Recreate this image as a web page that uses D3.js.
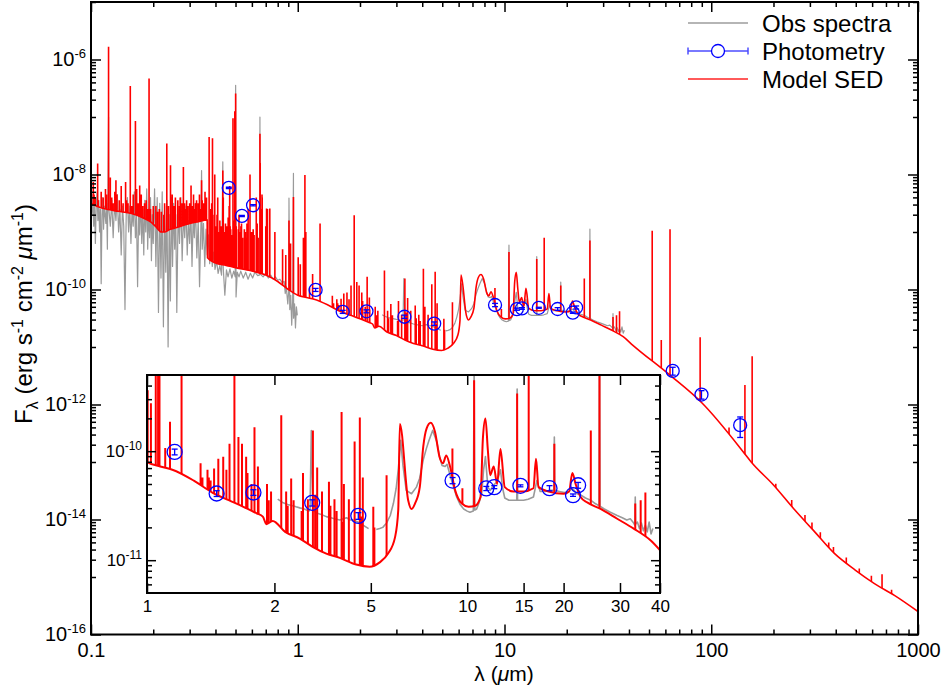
<!DOCTYPE html>
<html><head><meta charset="utf-8">
<script src="https://cdn.jsdelivr.net/npm/d3@7"></script>
<style>
body{margin:0;background:#fff}
svg{display:block}
text{font-family:"Liberation Sans",Arial,Helvetica,sans-serif;fill:#000;white-space:pre}
</style>
</head><body>
<svg id="chart" width="946" height="686"></svg>
<script>
// ---------------- DATA ----------------
// Model SED continuum [wavelength (um), F_lambda]
const modelContinuum = [
[0.100,3.16e-9],[0.110,2.69e-9],[0.121,2.46e-9],[0.135,2.29e-9],[0.157,2.09e-9],[0.180,1.74e-9],
[0.195,1.48e-9],[0.205,1.26e-9],[0.219,1.00e-9],[0.228,1.00e-9],[0.240,1.10e-9],[0.260,1.20e-9],
[0.295,1.38e-9],[0.330,1.51e-9],[0.3646,1.62e-9],[0.3660,3.55e-10],[0.400,2.88e-10],[0.450,2.63e-10],
[0.500,2.40e-10],[0.620,2.04e-10],[0.700,1.78e-10],[0.800,1.38e-10],[0.900,1.00e-10],[1.00,7.94e-11],
[1.10,7.24e-11],[1.20,6.76e-11],[1.40,5.37e-11],[1.60,4.17e-11],[1.80,3.55e-11],[2.00,3.09e-11],
[2.20,2.69e-11],[2.30,2.51e-11],[2.36,2.14e-11],[2.47,2.29e-11],[2.70,1.82e-11],[3.00,1.58e-11],
[3.30,1.32e-11],[3.63,1.15e-11],[4.00,1.05e-11],[4.50,9.12e-12],[4.96,8.71e-12],[5.33,9.55e-12],
[5.66,1.15e-11],[5.95,1.62e-11],[6.09,2.88e-11],[6.16,1.78e-10],[6.54,3.55e-11],[6.70,2.95e-11],
[6.87,3.31e-11],[7.11,4.68e-11],[7.29,1.10e-10],[7.47,1.62e-10],[7.69,1.82e-10],[7.93,1.51e-10],
[8.19,8.91e-11],[8.40,7.76e-11],[8.60,9.12e-11],[8.84,7.24e-11],[9.17,4.37e-11],[9.62,3.31e-11],
[10.1,3.09e-11],[10.6,3.16e-11],[11.0,3.80e-11],[11.2,1.35e-10],[11.4,2.00e-10],[11.6,1.02e-10],
[11.8,6.03e-11],[12.1,7.24e-11],[12.4,5.01e-11],[12.7,1.05e-10],[13.1,4.68e-11],[13.95,4.27e-11],
[15.0,4.27e-11],[16.1,4.57e-11],[16.4,8.51e-11],[16.7,4.68e-11],[17.96,4.27e-11],[20.0,4.07e-11],
[20.8,4.27e-11],[21.3,6.31e-11],[21.8,5.01e-11],[22.6,3.80e-11],[23.7,3.39e-11],[26.1,2.95e-11],
[29.4,2.40e-11],[33.1,1.95e-11],[37.5,1.51e-11],[41.8,1.07e-11],[63.1,3.24e-12],[90.5,1.05e-12],
[142.6,1.51e-13],[156,1.00e-13],[200,3.98e-14],[250,1.55e-14],[312,6.46e-15],[394,2.57e-15],
[497,1.32e-15],[613,7.76e-16],[769,4.79e-16],[1000,2.51e-16]
];

// Model emission lines [wavelength (um), peak F_lambda]
const modelLines = [
[0.1026,7.41e-9],[0.1035,4.47e-9],[0.1048,3.98e-9],[0.1077,1.55e-8],[0.1085,3.55e-9],[0.1120,5.01e-9],
[0.1145,3.98e-9],[0.1175,5.62e-9],[0.1190,4.47e-9],[0.1216,1.66e-6],[0.1240,8.91e-9],[0.1260,3.98e-9],
[0.1280,3.16e-9],[0.1304,5.01e-9],[0.1320,7.94e-9],[0.1335,4.47e-9],[0.1370,3.55e-9],[0.1400,6.31e-9],
[0.1430,3.16e-9],[0.1470,7.41e-9],[0.1486,3.55e-9],[0.1510,3.16e-9],[0.1549,3.47e-7],[0.1575,2.82e-9],
[0.1600,4.47e-9],[0.1640,8.51e-8],[0.1663,5.62e-9],[0.1690,3.16e-9],[0.1720,6.46e-9],[0.1750,4.47e-9],
[0.1780,2.82e-9],[0.1815,3.16e-9],[0.1850,3.55e-9],[0.1880,2.51e-9],[0.1909,4.68e-7],[0.1940,2.51e-9],
[0.2000,2.82e-9],[0.2060,2.82e-9],[0.2100,2.24e-9],[0.2140,2.51e-9],[0.2190,2.24e-9],[0.2250,2.00e-9],
[0.2270,3.16e-9],[0.2326,3.47e-8],[0.2370,2.82e-9],[0.2424,1.45e-8],[0.2470,4.47e-9],[0.2515,2.82e-9],
[0.2560,3.98e-9],[0.2630,3.55e-9],[0.2680,2.82e-9],[0.2700,3.98e-9],[0.2750,3.16e-9],[0.2798,1.35e-8],
[0.2835,3.16e-9],[0.2860,2.51e-9],[0.2900,3.55e-9],[0.2945,2.82e-9],[0.3000,3.16e-9],[0.3047,6.46e-9],
[0.3090,2.82e-9],[0.3133,4.47e-9],[0.3170,2.51e-9],[0.3203,3.16e-9],[0.3240,3.55e-9],[0.3300,3.16e-9],
[0.3346,4.47e-9],[0.3380,2.51e-9],[0.3426,7.94e-9],[0.3450,3.55e-9],[0.3500,3.16e-9],[0.3560,5.01e-9],
[0.3620,3.98e-9],[0.3727,4.47e-8],[0.3798,2.51e-9],[0.3835,3.16e-9],[0.3869,4.27e-8],[0.3889,2.00e-9],
[0.3968,1.00e-8],[0.4026,1.26e-9],[0.4069,2.00e-9],[0.4102,3.98e-9],[0.4144,1.00e-9],[0.4200,1.58e-9],
[0.4267,1.26e-9],[0.4340,1.17e-8],[0.4363,3.98e-9],[0.4415,1.00e-9],[0.4471,1.41e-9],[0.4541,1.26e-9],
[0.4571,8.91e-10],[0.4607,1.78e-9],[0.4634,1.12e-9],[0.4658,2.82e-9],[0.4686,6.31e-9],[0.4711,1.26e-9],
[0.4740,1.12e-9],[0.4798,8.91e-10],[0.4861,9.55e-8],[0.4922,1.58e-9],[0.4959,1.26e-7],[0.5007,2.57e-7],
[0.5041,1.26e-9],[0.5159,1.12e-9],[0.5198,2.00e-9],[0.5270,1.00e-9],[0.5309,1.26e-9],[0.5345,1.41e-9],
[0.5412,7.94e-10],[0.5518,1.12e-9],[0.5577,1.00e-9],[0.5631,7.94e-10],[0.5680,1.41e-9],[0.5720,1.12e-9],
[0.5755,2.51e-9],[0.5876,1.00e-8],[0.5980,1.00e-9],[0.6087,1.12e-9],[0.6151,8.91e-10],[0.6300,3.98e-9],
[0.6364,1.41e-9],[0.6435,7.94e-10],[0.6563,5.13e-8],[0.6583,1.58e-8],[0.6678,2.51e-9],[0.6716,4.47e-9],
[0.6731,3.98e-9],[0.7006,1.26e-9],[0.7065,2.57e-9],[0.7136,2.51e-9],[0.7325,2.57e-9],[0.7751,1.00e-9],
[0.8446,5.01e-10],[0.8750,3.98e-10],[0.9069,1.58e-9],[0.9229,6.31e-10],[0.9532,4.07e-9],[1.0049,3.63e-10],
[1.0286,2.75e-10],[1.0650,7.94e-10],[1.0830,9.77e-9],[1.0940,1.00e-9],[1.1400,1.07e-10],[1.1800,1.86e-10],
[1.2820,1.41e-9],[1.4700,7.76e-11],[1.4900,5.75e-11],[1.5450,6.76e-11],[1.5600,5.75e-11],[1.5800,5.37e-11],
[1.6200,6.92e-11],[1.6700,8.51e-11],[1.7300,8.91e-11],[1.7700,6.76e-11],[1.8100,1.17e-10],[1.8750,1.95e-9],
[1.9300,1.35e-10],[1.9800,1.17e-10],[2.0400,8.91e-11],[2.0600,6.31e-11],[2.1200,5.01e-11],[2.1660,1.66e-10],
[2.2200,7.24e-11],[2.2300,4.47e-11],[2.3700,5.01e-11],[2.4000,3.55e-11],[2.4400,4.27e-11],[2.6260,2.14e-10],
[2.7200,4.27e-11],[2.7500,3.16e-11],[2.8200,5.62e-11],[2.8700,3.55e-11],[3.0400,2.82e-11],[3.0700,6.31e-11],
[3.1800,3.63e-11],[3.2970,1.55e-10],[3.3500,3.98e-11],[3.4000,7.08e-11],[3.5200,4.27e-11],[3.7000,5.25e-11],
[3.7400,3.16e-11],[3.8500,3.63e-11],[3.9100,2.82e-11],[4.0520,2.29e-10],[4.1000,2.24e-11],[4.1200,5.01e-11],
[4.2700,3.63e-11],[4.4500,1.23e-10],[4.6200,2.04e-10],[4.6800,2.51e-11],[4.7200,5.75e-11],[5.0900,3.09e-11],
[5.1300,2.00e-11],[5.6000,6.03e-11],[8.9910,1.06e-10],
[9.6600,4.57e-11],[10.510,4.47e-10],[14.320,3.39e-10],[15.560,7.94e-10],[18.710,1.17e-10],[24.320,1.55e-10],
[25.890,7.08e-10],[33.480,3.31e-11],[34.810,3.55e-11],[36.010,4.17e-11],[51.810,1.05e-9],[57.320,1.32e-11],
[63.180,1.12e-9],[88.360,1.48e-11],[121.90,3.98e-13],[145.50,2.19e-12],[157.70,6.92e-12],[205.20,4.17e-14],
[245,2.19e-14],[284,1.20e-14],[307,8.91e-15],[337,6.03e-15],[370,3.98e-15],[390,3.31e-15],
[450,2.19e-15],[520,1.41e-15],[595,1.05e-15],[670,1.12e-15],[745,6.03e-16]
];

// Observed spectra: UV-optical, near-IR, mid-IR segments [wavelength (um), F_lambda]
const obsUV = [
[0.100,3.55e-9],[0.101,2.00e-9],[0.102,4.47e-9],[0.103,1.26e-9],[0.104,3.16e-9],[0.105,6.31e-10],[0.106,2.82e-9],
[0.107,5.01e-9],[0.108,1.58e-9],[0.109,3.55e-9],[0.110,1.00e-9],[0.111,2.51e-9],[0.112,1.26e-10],[0.113,2.00e-9],
[0.114,3.98e-9],[0.115,1.12e-9],[0.116,2.82e-9],[0.118,1.41e-9],[0.119,3.16e-9],[0.120,5.01e-10],[0.1216,1.00e-7],
[0.122,2.51e-9],[0.124,1.26e-9],[0.126,3.55e-9],[0.128,7.94e-10],[0.130,3.16e-9],[0.132,1.58e-9],[0.134,4.47e-9],
[0.136,1.00e-9],[0.138,2.51e-9],[0.140,3.98e-10],[0.142,2.82e-9],[0.144,1.26e-9],[0.146,4.47e-11],[0.148,2.00e-9],
[0.150,3.98e-9],[0.152,1.00e-9],[0.154,2.82e-9],[0.156,6.31e-10],[0.158,2.51e-9],[0.160,1.26e-9],[0.162,5.01e-9],
[0.164,7.94e-10],[0.166,2.00e-9],[0.168,1.12e-10],[0.170,2.24e-9],[0.172,8.91e-10],[0.174,3.98e-9],[0.176,6.31e-10],
[0.178,2.51e-9],[0.180,3.98e-10],[0.182,3.55e-9],[0.184,1.00e-9],[0.186,5.62e-9],[0.188,5.01e-10],[0.190,2.51e-9],
[0.192,7.94e-10],[0.194,3.98e-9],[0.196,3.16e-10],[0.198,2.00e-9],[0.200,6.31e-10],[0.203,5.62e-9],[0.206,2.51e-10],
[0.209,3.98e-9],[0.212,3.98e-11],[0.215,3.16e-9],[0.218,1.58e-10],[0.221,5.01e-9],[0.224,2.24e-11],[0.227,2.82e-9],
[0.230,2.00e-10],[0.233,3.55e-9],[0.236,1.00e-11],[0.239,2.00e-9],[0.242,6.31e-11],[0.245,3.98e-9],[0.248,2.51e-10],
[0.251,3.16e-9],[0.254,5.01e-10],[0.257,2.00e-9],[0.260,3.98e-11],[0.264,2.51e-9],[0.268,6.31e-10],[0.272,3.98e-9],
[0.276,3.16e-10],[0.280,2.00e-9],[0.284,7.94e-10],[0.288,2.82e-9],[0.292,3.98e-10],[0.296,1.58e-9],[0.300,6.31e-10],
[0.304,2.51e-9],[0.308,2.51e-10],[0.312,1.78e-9],[0.316,7.94e-10],[0.320,3.16e-9],[0.325,3.55e-10],[0.330,1.58e-9],
[0.335,1.12e-10],[0.340,1.26e-9],[0.3426,1.17e-8],[0.345,5.01e-10],[0.350,1.41e-9],[0.355,2.51e-10],[0.360,1.12e-9],
[0.365,3.98e-10],[0.370,8.91e-10],[0.375,2.82e-10],[0.380,6.31e-10],[0.386,2.51e-10],[0.392,4.47e-10],[0.398,2.24e-10],
[0.405,3.16e-10],[0.412,1.91e-10],[0.420,2.63e-10],[0.428,1.78e-10],[0.434,1.66e-8],[0.436,2.40e-10],[0.444,7.94e-11],
[0.452,2.19e-10],[0.460,1.66e-10],[0.470,2.29e-10],[0.480,1.58e-10],[0.490,2.09e-10],[0.4985,1.66e-10],[0.5007,3.55e-7],
[0.503,7.41e-11],[0.510,2.00e-10],[0.520,1.66e-10],[0.530,2.09e-10],[0.545,1.58e-10],[0.560,2.00e-10],[0.575,1.51e-10],
[0.590,1.91e-10],[0.605,1.58e-10],[0.620,2.00e-10],[0.640,1.74e-10],[0.6545,1.80e-10],[0.6563,1.00e-7],[0.658,1.85e-10],
[0.680,1.66e-10],[0.700,1.91e-10],[0.720,1.58e-10],[0.740,1.78e-10],[0.760,1.51e-10],[0.780,1.66e-10],[0.800,1.45e-10],
[0.820,1.51e-10],[0.840,1.32e-10],[0.860,1.38e-10],[0.870,8.51e-11],[0.880,1.12e-10],[0.895,5.62e-11],[0.905,1.00e-10],
[0.9069,3.89e-9],[0.915,4.47e-11],[0.925,7.94e-11],[0.935,2.40e-11],[0.945,6.31e-11],[0.9532,1.05e-8],[0.955,3.16e-11],
[0.965,5.62e-11],[0.975,2.14e-11],[0.985,5.01e-11],[0.995,3.55e-11]
];
const obsNIR = [
[2.56,3.63e-11],[2.65,3.39e-11],[2.75,3.24e-11],[2.85,3.16e-11],[2.92,3.09e-11],[3.00,3.02e-11],[3.10,2.95e-11],
[3.20,2.82e-11],[3.23,2.90e-11],[3.26,1.55e-10],[3.30,2.88e-11],[3.40,2.69e-11],[3.50,2.63e-11],[3.63,2.51e-11],
[3.75,2.45e-11],[3.85,2.40e-11],[4.00,2.34e-11],[4.10,2.40e-11],[4.20,2.45e-11],[4.30,2.34e-11],[4.40,2.34e-11],
[4.55,2.24e-11],[4.65,2.14e-11],[4.73,2.09e-11],[4.85,2.00e-11],[4.92,1.95e-11]
];
const obsMIR = [
[5.20,1.91e-11],[5.33,1.95e-11],[5.45,2.00e-11],[5.60,2.19e-11],[5.75,2.57e-11],[5.88,3.31e-11],[6.00,4.57e-11],
[6.09,6.76e-11],[6.20,1.26e-10],[6.30,7.41e-11],[6.45,4.37e-11],[6.70,4.07e-11],[6.94,4.68e-11],[7.10,5.62e-11],
[7.29,8.32e-11],[7.45,1.05e-10],[7.60,1.26e-10],[7.80,1.55e-10],[8.03,1.23e-10],[8.20,8.91e-11],[8.34,7.41e-11],
[8.53,7.24e-11],[8.65,7.59e-11],[8.84,6.03e-11],[9.05,4.79e-11],[9.27,3.80e-11],[9.50,3.24e-11],[9.75,2.95e-11],
[10.0,2.82e-11],[10.2,2.75e-11],[10.45,2.82e-11],[10.51,5.89e-10],[10.56,2.88e-11],[10.7,2.95e-11],[10.9,3.39e-11],
[11.1,4.07e-11],[11.25,6.76e-11],[11.4,8.91e-11],[11.6,4.68e-11],[11.8,4.37e-11],[12.1,4.90e-11],[12.4,5.25e-11],
[12.7,6.76e-11],[12.9,4.57e-11],[13.1,3.72e-11],[13.5,3.55e-11],[13.95,3.55e-11],[14.28,3.55e-11],[14.32,3.72e-10],
[14.36,3.55e-11],[15.0,3.55e-11],[15.5,3.63e-11],[16.1,3.80e-11],[16.5,5.37e-11],[16.9,4.27e-11],[17.5,4.27e-11],
[18.1,4.37e-11],[18.65,4.37e-11],[18.71,1.35e-10],[18.77,4.37e-11],[19.4,4.27e-11],[20.1,4.17e-11],[20.8,4.27e-11],
[21.3,4.57e-11],[22.0,4.07e-11],[22.6,3.98e-11],[23.4,3.72e-11],[24.3,3.55e-11],[25.1,3.31e-11],[25.8,3.16e-11],
[25.89,1.12e-9],[25.98,3.13e-11],[26.8,2.95e-11],[28.0,2.75e-11],[29.4,2.57e-11],[30.5,2.45e-11],[31.5,2.34e-11],
[32.3,2.40e-11],[33.1,2.19e-11],[33.4,2.09e-11],[33.48,3.80e-11],[33.56,2.14e-11],[34.0,2.24e-11],[34.5,1.95e-11],
[35.0,2.19e-11],[35.5,1.86e-11],[36.0,2.09e-11],[36.5,1.82e-11],[37.0,2.24e-11],[37.5,1.74e-11],[38.0,1.95e-11]
];

// Photometry [wavelength (um), F_lambda, error]
const photometry = [
[0.464,5.85e-9,1.5e-10],[0.537,1.90e-9,5e-11],[0.608,2.92e-9,8e-11],[1.22,9.85e-11,6e-12],
[1.65,4.09e-11,2.5e-12],[2.15,4.18e-11,2.5e-12],[3.28,3.36e-11,2.2e-12],[4.57,2.55e-11,1.8e-12],
[9.0,5.38e-11,3.5e-12],[11.47,4.55e-11,2e-12],[12.15,4.68e-11,1.5e-12],[14.66,4.81e-11,1e-12],
[18.07,4.58e-11,2.5e-12],[21.4,3.95e-11,1e-12],[22.2,4.87e-11,3e-12],[65.1,3.84e-12,6e-13],
[89.7,1.49e-12,2.5e-13],[138,4.37e-13,1.7e-13]
];

// Ticks and labels
const mainXTicks = [0.1,1,10,100,1000];
const mainXTickLabels = ["0.1","1","10","100","1000"];
const mainYTicks = [1e-16,1e-14,1e-12,1e-10,1e-8,1e-6];
const mainYTickExps = ["-16","-14","-12","-10","-8","-6"];
const insetXTicks = [1,2.5,5,10,15,20,30,40];
const insetXTickLabels = ["1","2","5","10","15","20","30","40"];
const insetYTicks = [1e-11,1e-10];
const insetYTickExps = ["-11","-10"];
const legendLabels = ["Obs spectra","Photometry","Model SED"];

// ---------------- DRAWING ----------------
const FONT = '"Liberation Sans", Arial, Helvetica, sans-serif';
const RED = "#ff0000", GRAY = "#9a9a9a", BLUE = "#0000ff";
const svg = d3.select("#chart");
const defs = svg.append("defs");

const M = {l:91, r:918, t:2, b:634.5};
const x = d3.scaleLog().domain([0.1,1000]).range([M.l,M.r]);
const y = d3.scaleLog().domain([1e-16,1e-5]).range([M.b,M.t]);

const I = {l:147, r:660, t:375, b:593};
const xi = d3.scaleLog().domain([1,40]).range([I.l,I.r]);
const yi = d3.scaleLog().domain([5e-12,5e-10]).range([I.b,I.t]);

defs.append("clipPath").attr("id","clipMain").append("rect")
  .attr("x",M.l).attr("y",M.t).attr("width",M.r-M.l).attr("height",M.b-M.t);
defs.append("clipPath").attr("id","clipInset").append("rect")
  .attr("x",I.l).attr("y",I.t).attr("width",I.r-I.l).attr("height",I.b-I.t);

function drawContent(g, xs, ys, o, id){
  const lin = d3.line().x(d=>xs(d[0])).y(d=>ys(d[1]));
  g.selectAll("path.obs").data([obsUV,obsNIR,obsMIR]).join("path").attr("class","obs")
    .attr("d",lin).attr("fill","none").attr("stroke",GRAY).attr("stroke-width",o.gw)
    .attr("stroke-linejoin","round");
  const curve = d3.curveMonotoneX;
  const area = d3.area().x(d=>xs(d[0])).y0(ys.range()[1]-200).y1(d=>ys(d[1])).curve(curve);
  defs.append("clipPath").attr("id",id).append("path").attr("d",area(modelContinuum));
  const bottom = ys.range()[0]+200;
  g.append("path")
    .attr("d", modelLines.map(d=>`M${xs(d[0])},${ys(d[1])}V${bottom}`).join(""))
    .attr("fill","none").attr("stroke",RED).attr("stroke-width",o.sw)
    .attr("clip-path",`url(#${id})`);
  g.append("path").attr("d", d3.line().x(d=>xs(d[0])).y(d=>ys(d[1])).curve(curve)(modelContinuum))
    .attr("fill","none").attr("stroke",RED).attr("stroke-width",o.lw);
  const p = g.selectAll("g.phot").data(photometry).join("g").attr("class","phot")
    .attr("stroke",BLUE).attr("fill","none").attr("stroke-width",1.3);
  p.append("line").attr("x1",d=>xs(d[0])).attr("x2",d=>xs(d[0]))
    .attr("y1",d=>ys(d[1]-d[2])).attr("y2",d=>ys(d[1]+d[2]));
  p.append("line").attr("x1",d=>xs(d[0])-o.cap).attr("x2",d=>xs(d[0])+o.cap)
    .attr("y1",d=>ys(d[1]-d[2])).attr("y2",d=>ys(d[1]-d[2]));
  p.append("line").attr("x1",d=>xs(d[0])-o.cap).attr("x2",d=>xs(d[0])+o.cap)
    .attr("y1",d=>ys(d[1]+d[2])).attr("y2",d=>ys(d[1]+d[2]));
  p.append("circle").attr("cx",d=>xs(d[0])).attr("cy",d=>ys(d[1])).attr("r",o.r);
}

// main content
const gMain = svg.append("g").attr("clip-path","url(#clipMain)");
drawContent(gMain, x, y, {gw:1.2, sw:1.6, lw:1.6, cap:3, r:6.5}, "clipModelMain");

function styleAxis(g, fs){
  g.select(".domain").remove();
  g.attr("font-family",FONT).attr("font-size",fs);
  g.selectAll(".tick line").attr("stroke","#000").attr("stroke-width",1.5);
}
function supText(g, exps, vals, fs, sfs, rise){
  g.selectAll(".tick text").each(function(d){
    const t = d3.select(this).text(null).attr("font-size",fs);
    t.append("tspan").text("10");
    t.append("tspan").attr("dy",-rise).attr("font-size",sfs).text(exps[vals.indexOf(d)]);
  });
}

// minor tick values
const mant = [2,3,4,5,6,7,8,9];
const mainXMinor = [];
[0.1,1,10,100].forEach(dec=>mant.forEach(m=>mainXMinor.push(m*dec)));
const mainYMinor = [];
[1e-15,1e-13,1e-11,1e-9,1e-7,1e-5].forEach(dec=>[1,2,3,4,5,6,7,8,9].forEach(m=>{const v=m*dec; if(v<=1e-5) mainYMinor.push(v);}));
const insetYMinor = [];
[1e-12,1e-11,1e-10].forEach(dec=>mant.forEach(m=>{const v=m*dec; if(v>5e-12 && v<5e-10) insetYMinor.push(v);}));

function axesSet(xs, ys, R, xMaj, xLab, yMaj, yExps, xMin, yMin, opt){
  svg.append("g").attr("transform",`translate(0,${R.b})`)
    .call(d3.axisBottom(xs).tickValues(xMaj).tickSize(-opt.maj).tickPadding(opt.xpad)
      .tickFormat(d=>xLab[xMaj.indexOf(d)]))
    .call(g=>styleAxis(g,opt.fs));
  svg.append("g").attr("transform",`translate(0,${R.t})`)
    .call(d3.axisTop(xs).tickValues(xMaj).tickSize(-opt.maj).tickFormat(""))
    .call(g=>styleAxis(g,opt.fs));
  if(xMin.length){
    svg.append("g").attr("transform",`translate(0,${R.b})`)
      .call(d3.axisBottom(xs).tickValues(xMin).tickSize(-opt.min).tickFormat(""))
      .call(g=>styleAxis(g,opt.fs));
    svg.append("g").attr("transform",`translate(0,${R.t})`)
      .call(d3.axisTop(xs).tickValues(xMin).tickSize(-opt.min).tickFormat(""))
      .call(g=>styleAxis(g,opt.fs));
  }
  svg.append("g").attr("transform",`translate(${R.l},0)`)
    .call(d3.axisLeft(ys).tickValues(yMaj).tickSize(-opt.ymaj).tickPadding(opt.ypad))
    .call(g=>styleAxis(g,opt.fs))
    .call(g=>supText(g,yExps,yMaj,opt.fs,opt.sfs,opt.rise));
  svg.append("g").attr("transform",`translate(${R.r},0)`)
    .call(d3.axisRight(ys).tickValues(yMaj).tickSize(-opt.ymaj).tickFormat(""))
    .call(g=>styleAxis(g,opt.fs));
  svg.append("g").attr("transform",`translate(${R.l},0)`)
    .call(d3.axisLeft(ys).tickValues(yMin).tickSize(-opt.min).tickFormat(""))
    .call(g=>styleAxis(g,opt.fs));
  svg.append("g").attr("transform",`translate(${R.r},0)`)
    .call(d3.axisRight(ys).tickValues(yMin).tickSize(-opt.min).tickFormat(""))
    .call(g=>styleAxis(g,opt.fs));
  svg.append("rect").attr("x",R.l).attr("y",R.t).attr("width",R.r-R.l).attr("height",R.b-R.t)
    .attr("fill","none").attr("stroke","#000").attr("stroke-width",2);
}

axesSet(x, y, M, mainXTicks, mainXTickLabels, mainYTicks, mainYTickExps, mainXMinor, mainYMinor,
  {maj:10, ymaj:10, min:5, fs:20, sfs:13, rise:8, xpad:8, ypad:5});

// inset
svg.append("rect").attr("x",I.l).attr("y",I.t).attr("width",I.r-I.l).attr("height",I.b-I.t).attr("fill","#fff");
const gIn = svg.append("g").attr("clip-path","url(#clipInset)");
drawContent(gIn, xi, yi, {gw:1.6, sw:2, lw:2, cap:3, r:7.5}, "clipModelInset");
axesSet(xi, yi, I, insetXTicks, insetXTickLabels, insetYTicks, insetYTickExps, [], insetYMinor,
  {maj:10, ymaj:9, min:5, fs:17, sfs:12, rise:7, xpad:7, ypad:5});

// axis titles
const yt = svg.append("text").attr("transform","translate(32,314) rotate(-90)")
  .attr("text-anchor","middle").attr("font-size",24);
yt.append("tspan").text("F");
yt.append("tspan").attr("font-size",16).attr("dy",6).text("λ");
yt.append("tspan").attr("dy",-6).text(" (erg s");
yt.append("tspan").attr("font-size",16).attr("dy",-9).text("-1");
yt.append("tspan").attr("dy",9).text(" cm");
yt.append("tspan").attr("font-size",16).attr("dy",-9).text("-2");
yt.append("tspan").attr("dy",9).text(" ");
yt.append("tspan").attr("font-style","italic").text("μ");
yt.append("tspan").text("m");
yt.append("tspan").attr("font-size",16).attr("dy",-9).text("-1");
yt.append("tspan").attr("dy",9).text(")");

const xt = svg.append("text").attr("x",504).attr("y",681).attr("text-anchor","middle").attr("font-size",21);
xt.append("tspan").text("λ (");
xt.append("tspan").attr("font-style","italic").text("μ");
xt.append("tspan").text("m)");

// legend
const L = svg.append("g").attr("font-family",FONT).attr("font-size",24);
const rowsY = [23,51,79];
L.append("line").attr("x1",688).attr("x2",748).attr("y1",rowsY[0]).attr("y2",rowsY[0]).attr("stroke","#b5b5b5").attr("stroke-width",2);
L.append("line").attr("x1",688).attr("x2",748).attr("y1",rowsY[1]).attr("y2",rowsY[1]).attr("stroke","#4d4dff").attr("stroke-width",1.5);
[688,748].forEach(cx=>L.append("line").attr("x1",cx).attr("x2",cx).attr("y1",rowsY[1]-3.5).attr("y2",rowsY[1]+3.5).attr("stroke","#4d4dff").attr("stroke-width",1.5));
L.append("circle").attr("cx",718).attr("cy",rowsY[1]).attr("r",6.5).attr("fill","#fff").attr("stroke",BLUE).attr("stroke-width",1.3);
L.append("line").attr("x1",688).attr("x2",748).attr("y1",rowsY[2]).attr("y2",rowsY[2]).attr("stroke","#ff5a5a").attr("stroke-width",2);
L.selectAll("text.lg").data(legendLabels).join("text").attr("class","lg")
  .attr("x",762).attr("y",(d,i)=>rowsY[i]).attr("dy","0.36em").text(d=>d);
</script>
</body></html>
